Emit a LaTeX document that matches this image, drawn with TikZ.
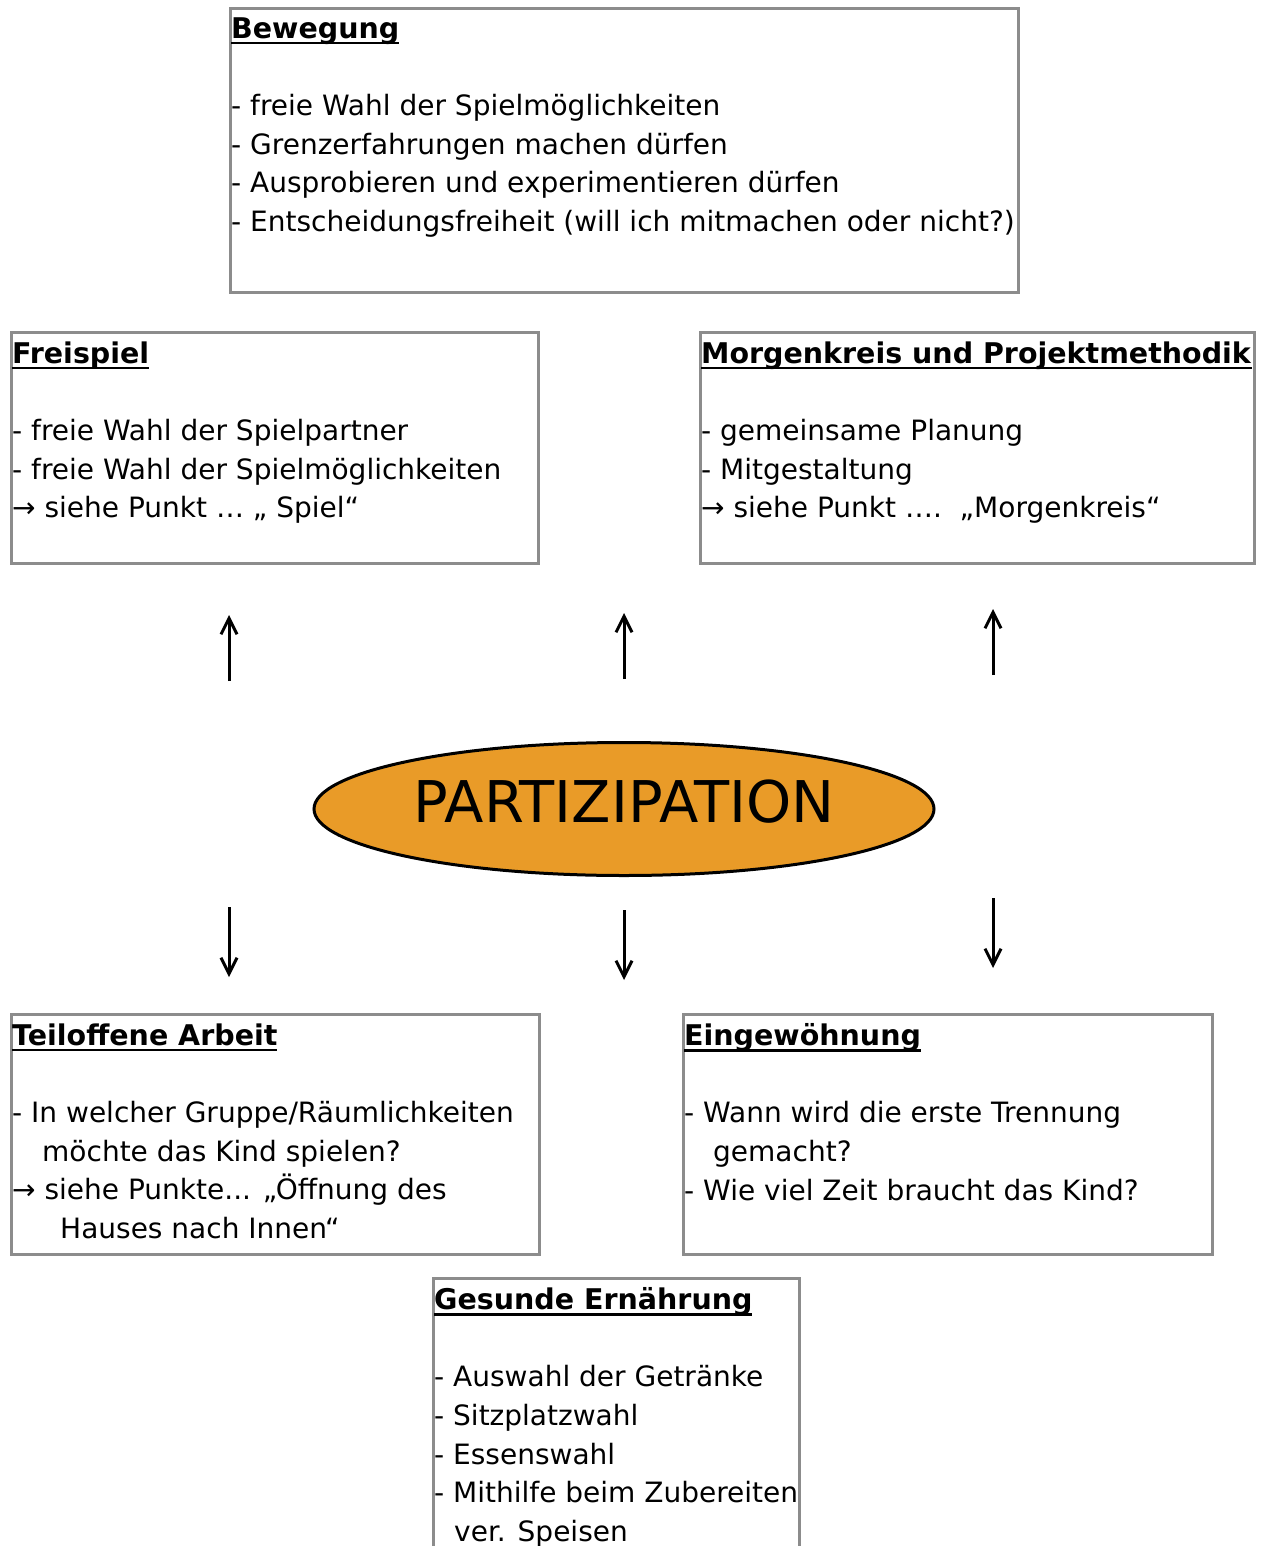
\documentclass[tikz,border=0pt]{standalone}
\usepackage{fontspec}
\setmainfont{DejaVu Sans}
\usetikzlibrary{shapes.geometric,arrows.meta}
\definecolor{framegray}{HTML}{8C8C8C}
\definecolor{partorange}{HTML}{E99B28}
\newsavebox{\titlebox}
\newcommand{\boxtitle}[1]{\sbox{\titlebox}{\fontsize{28.5}{38.6}\selectfont\textbf{#1}}\usebox{\titlebox}\llap{\rule[-6pt]{\wd\titlebox}{2.8pt}}}
\begin{document}
\begin{tikzpicture}[
        x=1pt, y=-1pt,
        panel/.style={rectangle, draw=framegray, line width=3pt,
                      anchor=north west, inner sep=0pt},
        paneltext/.style={anchor=north west, inner sep=0pt, align=left,
                      font=\fontsize{28}{38.6}\selectfont},
        centre/.style={ellipse, draw, fill=partorange, line width=3pt,
                      minimum width=620pt, minimum height=133pt, inner sep=0pt,
                      text depth=15pt, font=\fontsize{57.5}{60}\selectfont},
        arrow/.style={line width=3pt, -{Straight Barb[length=16pt,width=16pt,line width=3pt]}}
    ]
    \useasboundingbox (0,0) rectangle (1260,1546);
    \clip (0,0) rectangle (1260,1546);

    % Boxes
    \node[panel, minimum width=788pt, minimum height=284pt] (bewegung) at (229,7) {};
    \node[panel, minimum width=527pt, minimum height=231pt] (freispiel) at (10,331) {};
    \node[panel, minimum width=554pt, minimum height=231pt] (morgenkreis) at (699,331) {};
    \node[panel, minimum width=528pt, minimum height=240pt] (teiloffen) at (10,1013) {};
    \node[panel, minimum width=529pt, minimum height=240pt] (eingewoehnung) at (682,1013) {};
    \node[panel, minimum width=366pt, minimum height=300pt] (ernaehrung) at (432,1277) {};

    % Box texts
    \node[paneltext] (bewegung-t) at ([xshift=2pt,yshift=-10.5pt]bewegung.north west)
        {\boxtitle{Bewegung}\\ \mbox{}\\
         - freie Wahl der Spielmöglichkeiten\\
         - Grenzerfahrungen machen dürfen\\
         - Ausprobieren und experimentieren dürfen\\
         - Entscheidungsfreiheit (will ich mitmachen oder nicht?)};
    \node[paneltext] (freispiel-t) at ([xshift=2pt,yshift=-10.5pt]freispiel.north west)
        {\boxtitle{Freispiel}\\ \mbox{}\\
         - freie Wahl der Spielpartner\\
         - freie Wahl der Spielmöglichkeiten\\
         → siehe Punkt … „ Spiel“};
    \node[paneltext] (morgenkreis-t) at ([xshift=2pt,yshift=-10.5pt]morgenkreis.north west)
        {\boxtitle{Morgenkreis und Projektmethodik}\\ \mbox{}\\
         - gemeinsame Planung\\
         - Mitgestaltung\\
         → siehe Punkt ….~~„Morgenkreis“};
    \node[paneltext] (teiloffen-t) at ([xshift=2pt,yshift=-10.5pt]teiloffen.north west)
        {\boxtitle{Teiloffene Arbeit}\\ \mbox{}\\
         - In welcher Gruppe/Räumlichkeiten\\
         \hspace*{30pt}möchte das Kind spielen?\\
         → siehe Punkte... „Öffnung des\\
         \hspace*{48pt}Hauses nach Innen“};
    \node[paneltext] (eingewoehnung-t) at ([xshift=2pt,yshift=-10.5pt]eingewoehnung.north west)
        {\boxtitle{Eingewöhnung}\\ \mbox{}\\
         - Wann wird die erste Trennung\\
         \hspace*{29pt}gemacht?\\
         - Wie viel Zeit braucht das Kind?};
    \node[paneltext] (ernaehrung-t) at ([xshift=2pt,yshift=-10.5pt]ernaehrung.north west)
        {\boxtitle{Gesunde Ernährung}\\ \mbox{}\\
         - Auswahl der Getränke\\
         - Sitzplatzwahl\\
         - Essenswahl\\
         - Mithilfe beim Zubereiten\\
         \hspace*{20pt}ver. Speisen};

    % Centre
    \node[centre] (partizipation) at (624,809) {PARTIZIPATION};

    % Arrow ends
    \coordinate (up1s) at (229,681); \coordinate (up1e) at (229,615);
    \coordinate (up2s) at (624,679); \coordinate (up2e) at (624,613);
    \coordinate (up3s) at (993,675); \coordinate (up3e) at (993,609);
    \coordinate (dn1s) at (229,907); \coordinate (dn1e) at (229,977);
    \coordinate (dn2s) at (624,910); \coordinate (dn2e) at (624,980);
    \coordinate (dn3s) at (993,898); \coordinate (dn3e) at (993,968);
    \foreach \a in {up1,up2,up3,dn1,dn2,dn3}
        \draw[arrow] (\a s) -- (\a e);

\end{tikzpicture}
\end{document}
